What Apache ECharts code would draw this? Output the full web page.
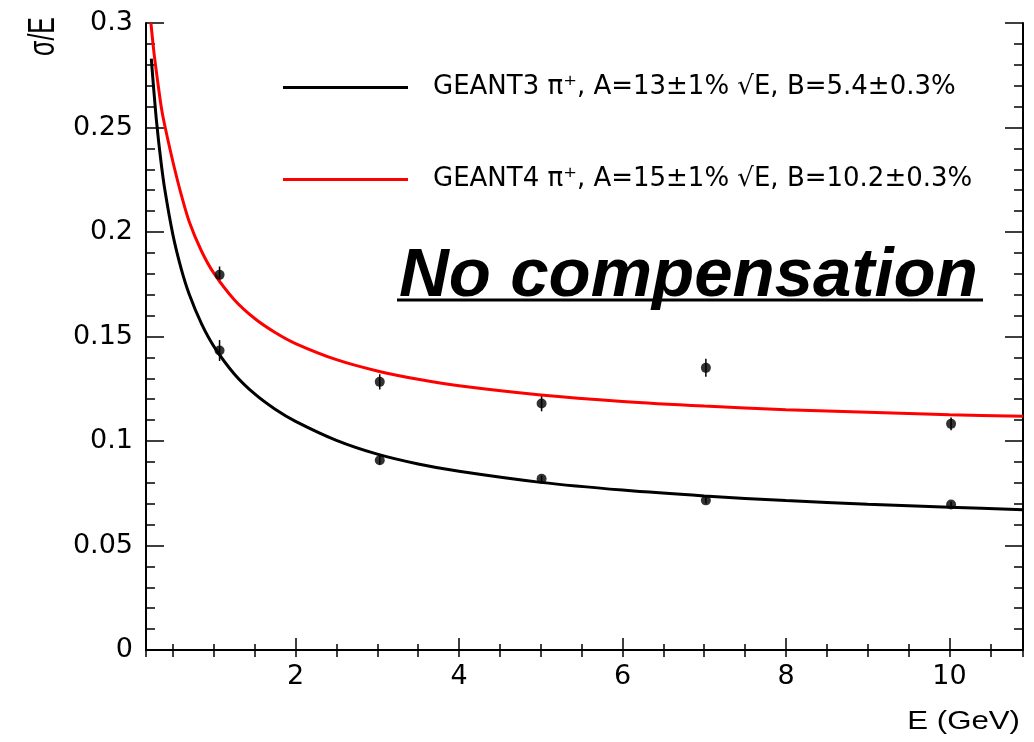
<!DOCTYPE html>
<html>
<head>
<meta charset="utf-8">
<script src="https://cdn.jsdelivr.net/npm/echarts@6/dist/echarts.min.js"></script>
<style>
  html, body { margin: 0; padding: 0; background: #fff; }
  #chart { width: 1034px; height: 742px; }
</style>
</head>
<body>
<div id="chart"></div>
<script>
// fitted curves
const g3CurveE = [0.235, 0.26, 0.3, 0.35, 0.4, 0.5, 0.6, 0.7, 0.85, 1.0, 1.25, 1.5, 1.75, 2, 2.5, 3, 3.5, 4, 5, 6, 7, 8, 9, 10, 10.9];
const g3CurveSigma = [0.283, 0.2704, 0.2525, 0.2347, 0.2203, 0.1985, 0.1825, 0.1701, 0.156, 0.1453, 0.1321, 0.1225, 0.1152, 0.1094, 0.1003, 0.0937, 0.0890, 0.0855, 0.0802, 0.0765, 0.0737, 0.0715, 0.0697, 0.0683, 0.0671];
const g4CurveE = [0.23, 0.27, 0.32, 0.36, 0.405, 0.5, 0.6, 0.7, 0.85, 1.0, 1.25, 1.5, 1.75, 2, 2.5, 3, 3.5, 4, 5, 6, 7, 8, 9, 10, 10.9];
const g4CurveSigma = [0.300, 0.285, 0.270, 0.259, 0.250, 0.2335, 0.218, 0.2048, 0.1908, 0.1803, 0.1676, 0.1586, 0.1519, 0.1466, 0.1389, 0.1335, 0.1295, 0.1264, 0.122, 0.1189, 0.1167, 0.115, 0.1137, 0.1126, 0.1118];

// measured points with errors
const beamE = [1.07, 3.03, 5.01, 7.02, 10.02];
const upperSigma = [0.1795, 0.1283, 0.1179, 0.1350, 0.1082];
const upperErr = [0.004, 0.0036, 0.0037, 0.0043, 0.003];
const lowerSigma = [0.1433, 0.0908, 0.0819, 0.0716, 0.0696];
const lowerErr = [0.005, 0.002, 0.0015, 0.0015, 0.0015];

const g3Name = 'GEANT3 π⁺, A=13±1% √E, B=5.4±0.3%';
const g4Name = 'GEANT4 π⁺, A=15±1% √E, B=10.2±0.3%';

const font = 'Liberation Sans, Helvetica, Arial, sans-serif';
const wideFont = 'DejaVu Sans, Liberation Sans, sans-serif';
const xMin = 0.17, xMax = 10.9;

const zip = (xs, ys) => xs.map((x, i) => [x, ys[i]]);
const points = zip(beamE, upperSigma).concat(zip(beamE, lowerSigma));
const errors = beamE.map((x, i) => [x, upperSigma[i], upperErr[i]])
  .concat(beamE.map((x, i) => [x, lowerSigma[i], lowerErr[i]]));

const chart = echarts.init(document.getElementById('chart'));

const axisLine = { show: true, lineStyle: { color: '#000', width: 2 } };
const tickLabel = { fontSize: 27, color: '#000', fontFamily: wideFont, margin: 13 };

chart.setOption({
  animation: false,
  grid: { left: 146, right: 11, top: 23, bottom: 92 },
  legend: {
    orient: 'vertical',
    left: 283,
    top: 71,
    padding: 0,
    icon: 'rect',
    itemWidth: 125,
    itemHeight: 3,
    itemGap: 59,
    textStyle: { fontSize: 26, color: '#000', fontFamily: wideFont, padding: [3, 0, 0, 20], lineHeight: 30 },
    data: [g3Name, g4Name]
  },
  xAxis: [
    {
      type: 'value', min: xMin, max: xMax, splitNumber: 5,
      axisLine: axisLine,
      axisTick: { inside: true, length: 12, lineStyle: { color: '#000', width: 1.5 } },
      minorTick: { show: true, splitNumber: 4, length: 6, lineStyle: { color: '#000', width: 1.5 } },
      axisLabel: Object.assign({ showMinLabel: false, showMaxLabel: false }, tickLabel),
      splitLine: { show: false }
    },
    {
      type: 'value', position: 'top', min: xMin, max: xMax, splitNumber: 5,
      axisLine: axisLine,
      axisTick: { inside: true, length: 7, lineStyle: { color: '#000', width: 1.5 } },
      minorTick: { show: true, splitNumber: 4, length: 7, lineStyle: { color: '#000', width: 1.5 } },
      axisLabel: { show: false },
      splitLine: { show: false }
    }
  ],
  yAxis: [
    {
      type: 'value', min: 0, max: 0.3, interval: 0.05,
      axisLine: axisLine,
      axisTick: { inside: true, length: 18, lineStyle: { color: '#000', width: 1.5 } },
      minorTick: { show: true, splitNumber: 5, length: 9, lineStyle: { color: '#000', width: 1.5 } },
      axisLabel: tickLabel,
      splitLine: { show: false }
    },
    {
      type: 'value', position: 'right', min: 0, max: 0.3, interval: 0.05,
      axisLine: axisLine,
      axisTick: { inside: true, length: 18, lineStyle: { color: '#000', width: 1.5 } },
      minorTick: { show: true, splitNumber: 5, length: 9, lineStyle: { color: '#000', width: 1.5 } },
      axisLabel: { show: false },
      splitLine: { show: false }
    }
  ],
  graphic: [
    {
      type: 'text', x: 44, y: 17, rotation: Math.PI / 2, scaleY: 1.45,
      style: { text: 'σ/E', fontSize: 25, fontFamily: font, fill: '#000', align: 'right', verticalAlign: 'middle' }
    },
    {
      type: 'text', x: 1020, y: 722, scaleX: 1.2,
      style: { text: 'E (GeV)', fontSize: 26, fontFamily: font, fill: '#000', align: 'right', verticalAlign: 'middle' }
    },
    {
      type: 'text', x: 399, y: 242,
      style: { text: 'No compensation', fontSize: 69, fontWeight: 'bold', fontStyle: 'italic', fontFamily: font, fill: '#000', align: 'left', verticalAlign: 'top' }
    },
    {
      type: 'line', shape: { x1: 397, y1: 300, x2: 983, y2: 300 },
      style: { stroke: '#000', lineWidth: 3 }
    }
  ],
  series: [
    {
      name: g3Name, type: 'line', smooth: 0.3, showSymbol: false, clip: true,
      data: zip(g3CurveE, g3CurveSigma),
      itemStyle: { color: '#000' },
      lineStyle: { color: '#000', width: 3 }
    },
    {
      name: g4Name, type: 'line', smooth: 0.3, showSymbol: false, clip: true,
      data: zip(g4CurveE, g4CurveSigma),
      itemStyle: { color: '#ff0000' },
      lineStyle: { color: '#ff0000', width: 3 }
    },
    {
      type: 'custom',
      data: errors,
      renderItem: (params, api) => {
        const x = api.value(0), y = api.value(1), e = api.value(2);
        const top = api.coord([x, y + e]);
        const bottom = api.coord([x, y - e]);
        return {
          type: 'line',
          shape: { x1: top[0], y1: top[1], x2: bottom[0], y2: bottom[1] },
          style: { stroke: '#000', lineWidth: 1.5 }
        };
      },
      z: 3
    },
    {
      type: 'scatter', symbol: 'circle', symbolSize: 10,
      data: points,
      itemStyle: { color: '#000' },
      z: 4
    }
  ]
});
</script>
</body>
</html>
